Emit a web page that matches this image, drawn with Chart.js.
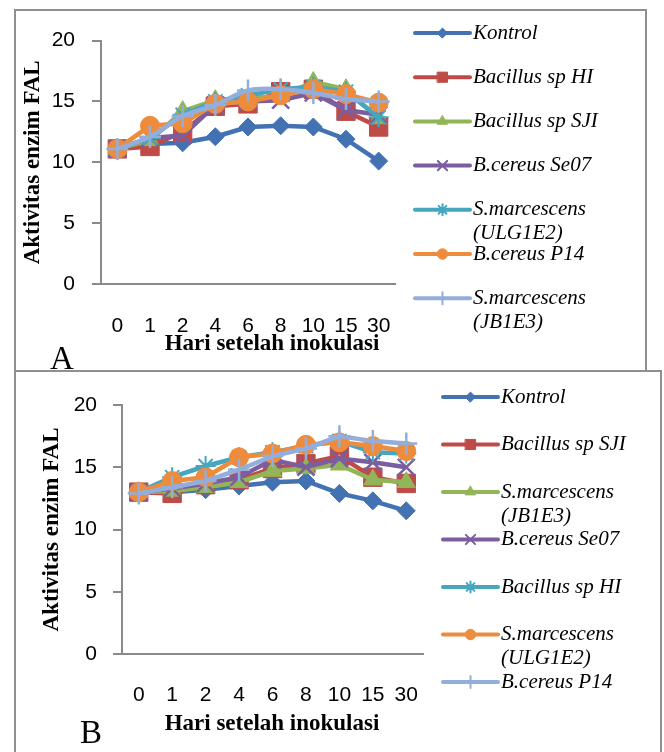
<!DOCTYPE html>
<html>
<head>
<meta charset="utf-8">
<script src="https://cdn.jsdelivr.net/npm/chart.js@4/dist/chart.umd.min.js"></script>
<style>
  body { margin: 0; background: #fff; width: 664px; height: 752px; overflow: hidden; position: relative; }
  .panel { position: absolute; box-sizing: border-box; border: 2px solid #8f8f8f; background: #fff; }
  #panelA { left: 14px; top: 9px; width: 633px; height: 363px; }
  #panelB { left: 14px; top: 370px; width: 648px; height: 420px; }
  canvas { position: absolute; left: 0; top: 0; }
</style>
</head>
<body>
<div class="panel" id="panelA"><canvas id="chartA" width="628" height="359"></canvas></div>
<div class="panel" id="panelB"><canvas id="chartB" width="644" height="380"></canvas></div>
<script>
/* Hari setelah inokulasi (kategori sumbu x) */
const hari = ['0', '1', '2', '4', '6', '8', '10', '15', '30'];
const yTicks = [0, 5, 10, 15, 20];

/* Panel A: aktivitas enzim FAL per perlakuan */
const labelsA = ['Kontrol', 'Bacillus sp HI', 'Bacillus sp SJI', 'B.cereus Se07',
  'S.marcescens (ULG1E2)', 'B.cereus P14', 'S.marcescens (JB1E3)'];
const kontrolA = [11.1, 11.5, 11.6, 12.1, 12.9, 13.0, 12.9, 11.9, 10.1];
const hiA = [11.1, 11.3, 12.5, 14.6, 14.8, 15.8, 16.0, 14.2, 12.9];
const sjiA = [11.1, 11.8, 14.2, 15.1, 15.3, 15.4, 16.6, 16.0, 13.6];
const se07A = [11.1, 12.0, 12.2, 14.7, 15.0, 15.1, 15.7, 14.3, 13.9];
const ulgA = [11.1, 12.0, 13.9, 15.0, 15.5, 16.0, 16.2, 15.8, 13.7];
const p14A = [11.1, 13.0, 13.2, 14.8, 15.0, 15.5, 16.0, 15.6, 14.9];
const jbA = [11.1, 12.1, 13.8, 14.7, 15.9, 16.0, 15.7, 15.2, 15.0];

/* Panel B */
const labelsB = ['Kontrol', 'Bacillus sp SJI', 'S.marcescens (JB1E3)', 'B.cereus Se07',
  'Bacillus sp HI', 'S.marcescens (ULG1E2)', 'B.cereus P14'];
const kontrolB = [13.0, 13.0, 13.2, 13.5, 13.8, 13.9, 12.9, 12.3, 11.5];
const sjiB = [13.0, 12.9, 13.6, 14.0, 14.9, 15.3, 15.9, 14.2, 13.7];
const jbB = [13.0, 13.1, 13.4, 13.8, 14.7, 14.9, 15.2, 14.0, 13.8];
const se07B = [13.0, 13.3, 13.7, 14.2, 15.6, 15.0, 15.7, 15.4, 15.0];
const hiB = [13.0, 14.2, 15.1, 15.8, 16.2, 16.7, 17.1, 16.2, 16.1];
const ulgB = [13.0, 13.9, 14.2, 15.8, 16.1, 16.8, 17.0, 16.7, 16.3];
const p14B = [12.9, 13.4, 13.9, 14.8, 15.9, 16.5, 17.5, 17.1, 16.9];

/* Gaya seri menurut urutan (warna + penanda ala Excel) */
const seriesStyle = [
  { color: '#4272b2', point: 'rectRot', radius: 9, pbw: 1 },
  { color: '#be4b48', point: 'rect', radius: 13, pbw: 1 },
  { color: '#92b558', point: 'triangle', radius: 10.5, pbw: 1 },
  { color: '#7b5ea0', point: 'crossRot', radius: 12, pbw: 2.5 },
  { color: '#46a6c0', point: 'star', radius: 10, pbw: 2 },
  { color: '#ee8c3e', point: 'circle', radius: 9.5, pbw: 1 },
  { color: '#93aeda', point: 'cross', radius: 11, pbw: 2.5 }
];

function makeDatasets(labels, series, smoothLast) {
  return series.map((data, i) => {
    const s = seriesStyle[i];
    return {
      label: labels[i],
      data,
      borderColor: s.color,
      backgroundColor: s.color,
      borderWidth: 4.5,
      pointStyle: s.point,
      pointRadius: s.radius,
      pointHoverRadius: s.radius,
      pointBorderWidth: s.pbw,
      pointBorderColor: s.color,
      pointBackgroundColor: s.color,
      tension: smoothLast && i === series.length - 1 ? 0.35 : 0,
      /* seri terakhir digambar paling atas */
      order: series.length - 1 - i
    };
  });
}

/* Judul sumbu x, huruf panel dan legenda di sisi kanan */
const panelText = {
  id: 'panelText',
  afterDraw(chart, args, opts) {
    const ctx = chart.ctx;
    ctx.save();
    ctx.fillStyle = '#000';
    ctx.textAlign = 'center';
    ctx.textBaseline = 'middle';
    ctx.font = 'bold 23px "Liberation Serif"';
    ctx.fillText(opts.xTitle, opts.xTitleX, opts.xTitleY);

    ctx.textAlign = 'left';
    ctx.textBaseline = 'alphabetic';
    ctx.font = '33px "Liberation Serif"';
    ctx.fillText(opts.letter, opts.letterX, opts.letterY);

    const lg = opts.legend;
    chart.data.datasets.forEach((ds, i) => {
      const y = lg.y + i * lg.gap;
      ctx.strokeStyle = ds.borderColor;
      ctx.lineWidth = 4;
      ctx.lineCap = 'round';
      ctx.beginPath();
      ctx.moveTo(lg.x, y);
      ctx.lineTo(lg.x + lg.len, y);
      ctx.stroke();

      ctx.fillStyle = ds.backgroundColor;
      ctx.lineWidth = Math.min(ds.pointBorderWidth, 2);
      Chart.helpers.drawPoint(ctx, {
        pointStyle: ds.pointStyle,
        radius: ds.pointRadius * 0.55,
        borderWidth: Math.min(ds.pointBorderWidth, 2),
        rotation: 0
      }, lg.x + lg.len / 2, y);

      ctx.fillStyle = '#000';
      ctx.textBaseline = 'middle';
      ctx.font = 'italic 21px "Liberation Serif"';
      const lines = ds.label.replace(' (', '\n(').split('\n');
      lines.forEach((t, k) => ctx.fillText(t, lg.x + lg.len + 3, y + k * 24));
    });
    ctx.restore();
  }
};

function makeChart(canvasId, labels, series, geo) {
  new Chart(document.getElementById(canvasId), {
    type: 'line',
    data: { labels: hari, datasets: makeDatasets(labels, series, geo.smooth) },
    plugins: [panelText],
    options: {
      responsive: false,
      animation: false,
      devicePixelRatio: 1,
      layout: { padding: { left: 0, top: geo.top, right: geo.right, bottom: geo.bottom } },
      plugins: {
        legend: { display: false },
        tooltip: { enabled: false },
        panelText: geo.text
      },
      scales: {
        x: {
          type: 'category',
          offset: true,
          grid: { display: false },
          border: { display: true, color: '#8a8a8a', width: 2 },
          ticks: {
            color: '#000',
            font: { family: '"Liberation Sans"', size: 21 },
            padding: geo.xPad,
            maxRotation: 0,
            autoSkip: false
          },
          afterFit: (scale) => { scale.height = 60; }
        },
        y: {
          min: yTicks[0],
          max: yTicks[yTicks.length - 1],
          afterBuildTicks: (scale) => { scale.ticks = yTicks.map((v) => ({ value: v })); },
          grid: {
            display: true,
            drawOnChartArea: false,
            drawTicks: true,
            tickLength: 9,
            color: '#8a8a8a',
            lineWidth: 2
          },
          border: { display: true, color: '#8a8a8a', width: 2 },
          ticks: {
            color: '#000',
            font: { family: '"Liberation Sans"', size: 21 },
            padding: geo.yPad
          },
          title: {
            display: true,
            text: 'Aktivitas enzim FAL',
            color: '#000',
            font: { family: '"Liberation Serif"', size: 23, weight: 'bold' },
            padding: { top: geo.yTitlePad, bottom: 0 }
          },
          afterFit: (scale) => { scale.width = geo.left; }
        }
      }
    }
  });
}

makeChart('chartA', labelsA, [kontrolA, hiA, sjiA, se07A, ulgA, p14A, jbA], {
  smooth: true,
  left: 85, top: 27, right: 249, bottom: 26,
  xPad: 22, yPad: 17, yTitlePad: 3,
  text: {
    xTitle: 'Hari setelah inokulasi', xTitleX: 256, xTitleY: 333,
    letter: 'A', letterX: 34, letterY: 358,
    legend: { x: 399, y: 22, gap: 44.2, len: 55 }
  }
});

makeChart('chartB', labelsB, [kontrolB, sjiB, jbB, se07B, hiB, ulgB, p14B], {
  smooth: false,
  left: 106, top: 33, right: 237, bottom: 38,
  xPad: 21, yPad: 16, yTitlePad: 22,
  text: {
    xTitle: 'Hari setelah inokulasi', xTitleX: 256, xTitleY: 352,
    letter: 'B', letterX: 64, letterY: 371,
    legend: { x: 427, y: 25, gap: 47.5, len: 55 }
  }
});
</script>
</body>
</html>
